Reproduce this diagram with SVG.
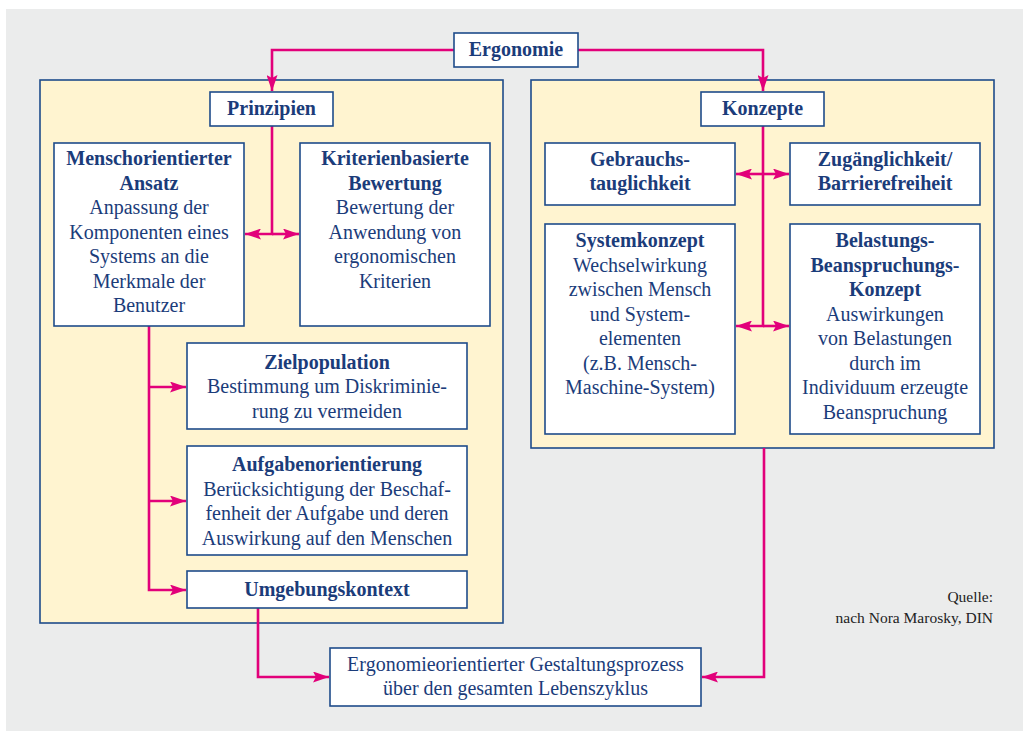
<svg xmlns="http://www.w3.org/2000/svg" width="1029" height="731" viewBox="0 0 1029 731">
<style>
.box{fill:#ffffff;stroke:#1f4b8a;stroke-width:1.6}
.panel{fill:#fff4d0;stroke:#1f4b8a;stroke-width:1.6}
.t{font-size:20px;fill:#1b3c7a;text-anchor:middle}
.b{font-weight:bold}
.c{fill:none;stroke:#e2007a;stroke-width:2.6}
.q{font-size:15.5px;fill:#222222;text-anchor:end}
</style>
<defs>
<marker id="ah" markerUnits="userSpaceOnUse" markerWidth="17" markerHeight="11" refX="16" refY="5.5" orient="auto">
<path d="M0,0 L16,5.5 L0,11 L3,5.5 z" fill="#e2007a"/>
</marker>
</defs>
<rect x="6" y="9" width="1017" height="722" fill="#ebecec"/>
<g id="panel-prinzipien"><rect class="panel" x="40" y="80" width="463" height="543"/></g>
<g id="panel-konzepte"><rect class="panel" x="531" y="80" width="463" height="368"/></g>
<g id="connectors">
<path class="c" d="M454,50 H272 V91" marker-end="url(#ah)"/>
<path class="c" d="M578,50 H763 V91" marker-end="url(#ah)"/>
<path class="c" d="M272,126 V234 H245" marker-end="url(#ah)"/>
<path class="c" d="M272,234 H299" marker-end="url(#ah)"/>
<path class="c" d="M763,126 V326 H736" marker-end="url(#ah)"/>
<path class="c" d="M763,326 H789" marker-end="url(#ah)"/>
<path class="c" d="M763,174 H736" marker-end="url(#ah)"/>
<path class="c" d="M763,174 H789" marker-end="url(#ah)"/>
<path class="c" d="M149,326 V590 H186" marker-end="url(#ah)"/>
<path class="c" d="M149,387 H186" marker-end="url(#ah)"/>
<path class="c" d="M149,501 H186" marker-end="url(#ah)"/>
<path class="c" d="M258,608 V677 H329" marker-end="url(#ah)"/>
<path class="c" d="M764,448 V677 H702" marker-end="url(#ah)"/>
</g>
<g font-family="Liberation Serif, Times New Roman, Times, DejaVu Serif, serif">
<g id="ergonomie"><rect class="box" x="454" y="33" width="124" height="34"/><text class="t b" x="516" y="56">Ergonomie</text></g>
<g id="prinzipien"><rect class="box" x="210" y="92" width="123" height="34"/><text class="t b" x="271.5" y="115">Prinzipien</text></g>
<g id="konzepte"><rect class="box" x="701" y="92" width="123" height="34"/><text class="t b" x="762.5" y="115">Konzepte</text></g>
<g id="menschorientiert"><rect class="box" x="54" y="143" width="190" height="183"/>
<text class="t b" x="149" y="165">Menschorientierter</text>
<text class="t b" x="149" y="189.5">Ansatz</text>
<text class="t" x="149" y="214">Anpassung der</text>
<text class="t" x="149" y="238.5">Komponenten eines</text>
<text class="t" x="149" y="263">Systems an die</text>
<text class="t" x="149" y="287.5">Merkmale der</text>
<text class="t" x="149" y="312">Benutzer</text></g>
<g id="kriterien"><rect class="box" x="300" y="143" width="190" height="183"/>
<text class="t b" x="395" y="165">Kriterienbasierte</text>
<text class="t b" x="395" y="189.5">Bewertung</text>
<text class="t" x="395" y="214">Bewertung der</text>
<text class="t" x="395" y="238.5">Anwendung von</text>
<text class="t" x="395" y="263">ergonomischen</text>
<text class="t" x="395" y="287.5">Kriterien</text></g>
<g id="zielpopulation"><rect class="box" x="187" y="343" width="280" height="86"/>
<text class="t b" x="327" y="368.5">Zielpopulation</text>
<text class="t" x="327" y="393">Bestimmung um Diskriminie-</text>
<text class="t" x="327" y="417.5">rung zu vermeiden</text></g>
<g id="aufgaben"><rect class="box" x="187" y="446" width="280" height="109"/>
<text class="t b" x="327" y="471">Aufgabenorientierung</text>
<text class="t" x="327" y="495.5">Berücksichtigung der Beschaf-</text>
<text class="t" x="327" y="520">fenheit der Aufgabe und deren</text>
<text class="t" x="327" y="544.5">Auswirkung auf den Menschen</text></g>
<g id="umgebung"><rect class="box" x="187" y="571" width="280" height="37"/>
<text class="t b" x="327" y="595.5">Umgebungskontext</text></g>
<g id="gebrauch"><rect class="box" x="545" y="143" width="190" height="62"/>
<text class="t b" x="640" y="165.5">Gebrauchs-</text>
<text class="t b" x="640" y="190">tauglichkeit</text></g>
<g id="zugang"><rect class="box" x="790" y="143" width="190" height="62"/>
<text class="t b" x="885" y="165.5">Zugänglichkeit/</text>
<text class="t b" x="885" y="190">Barrierefreiheit</text></g>
<g id="system"><rect class="box" x="545" y="224" width="190" height="210"/>
<text class="t b" x="640" y="247">Systemkonzept</text>
<text class="t" x="640" y="271.5">Wechselwirkung</text>
<text class="t" x="640" y="296">zwischen Mensch</text>
<text class="t" x="640" y="320.5">und System-</text>
<text class="t" x="640" y="345">elementen</text>
<text class="t" x="640" y="369.5">(z.B. Mensch-</text>
<text class="t" x="640" y="394">Maschine-System)</text></g>
<g id="belastung"><rect class="box" x="790" y="224" width="190" height="210"/>
<text class="t b" x="885" y="247">Belastungs-</text>
<text class="t b" x="885" y="271.5">Beanspruchungs-</text>
<text class="t b" x="885" y="296">Konzept</text>
<text class="t" x="885" y="320.5">Auswirkungen</text>
<text class="t" x="885" y="345">von Belastungen</text>
<text class="t" x="885" y="369.5">durch im</text>
<text class="t" x="885" y="394">Individuum erzeugte</text>
<text class="t" x="885" y="418.5">Beanspruchung</text></g>
<g id="prozess"><rect class="box" x="330" y="648" width="371" height="58"/>
<text class="t" x="515.5" y="670.5">Ergonomieorientierter Gestaltungsprozess</text>
<text class="t" x="515.5" y="695">über den gesamten Lebenszyklus</text></g>
<g id="quelle">
<text class="q" x="993" y="601.5">Quelle:</text>
<text class="q" x="993" y="622.5">nach Nora Marosky, DIN</text></g>
</g>
</svg>
